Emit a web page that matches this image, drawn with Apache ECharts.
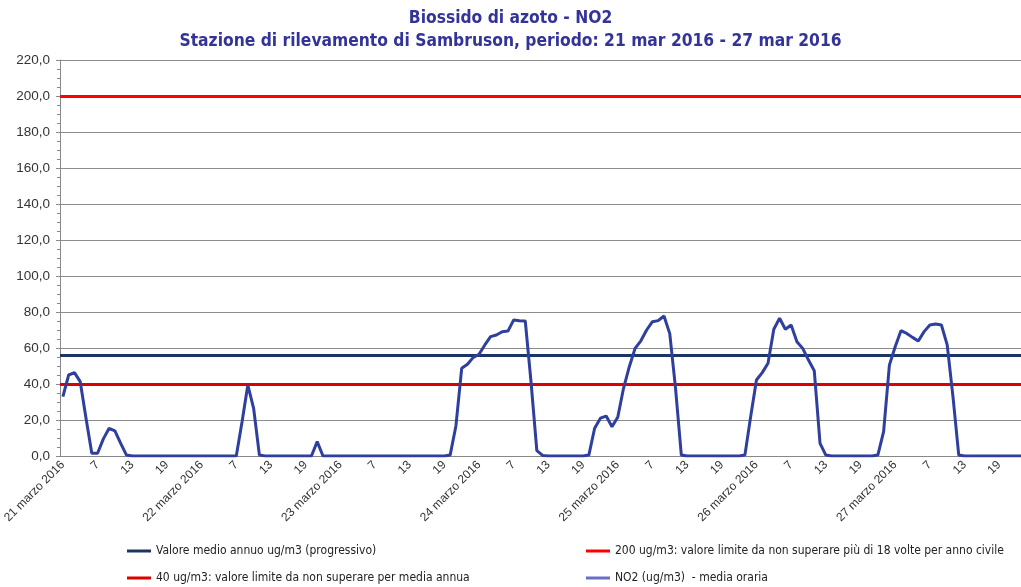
<!DOCTYPE html>
<html>
<head>
<meta charset="utf-8">
<script src="https://cdn.jsdelivr.net/npm/echarts@6/dist/echarts.min.js"></script>
<style>
  html, body { margin: 0; padding: 0; background: #fff; }
  #chart { width: 1021px; height: 587px; }
</style>
</head>
<body>
<div id="chart"></div>
<script>
// tick labels of the category axis
const days = ["21 marzo 2016", "22 marzo 2016", "23 marzo 2016", "24 marzo 2016",
  "25 marzo 2016", "26 marzo 2016", "27 marzo 2016"];

// hourly NO2 values (ug/m3), hours 1..24 of each day
const day21 = [33, 45, 46.3, 41.3, 21, 1.5, 1.5, 9.5, 15.4, 14, 7, 0.5, 0, 0, 0, 0, 0, 0, 0, 0, 0, 0, 0, 0];
const day22 = [0, 0, 0, 0, 0, 0, 0, 19, 39.4, 26.5, 0.5, 0, 0, 0, 0, 0, 0, 0, 0, 0, 8, 0, 0, 0];
const day23 = [0, 0, 0, 0, 0, 0, 0, 0, 0, 0, 0, 0, 0, 0, 0, 0, 0, 0, 0, 0.5, 16.7, 48.7, 51, 54.8];
const day24 = [56.5, 61.7, 66.3, 67.2, 69, 69.4, 75.6, 75.2, 75, 41, 3, 0.3, 0, 0, 0, 0, 0, 0, 0, 0.5, 15.4, 21, 22.2, 16.3];
const day25 = [21.5, 37.6, 49.6, 59.8, 64, 70, 74.6, 75.2, 77.8, 68, 37.6, 0.5, 0, 0, 0, 0, 0, 0, 0, 0, 0, 0, 0.5, 21.9];
const day26 = [42.2, 46.3, 51.5, 70.4, 76.5, 70.4, 72.8, 63.5, 59.8, 53.3, 47.4, 7, 0.5, 0, 0, 0, 0, 0, 0, 0, 0, 0.5, 13.5, 50.5];
const day27 = [60.7, 69.6, 68.1, 65.9, 63.9, 69.1, 72.8, 73.3, 72.8, 61.7, 33, 0.5, 0, 0, 0, 0, 0, 0, 0, 0, 0, 0, 0, 0];

const annualMean = 55.7;
const limitHourly = 200;
const limitAnnual = 40;

const no2 = [].concat(day21, day22, day23, day24, day25, day26, day27);
const categories = [];
days.forEach(function (d) {
  for (let h = 1; h <= 24; h++) categories.push(h === 1 ? d : String(h));
});

const nameMean = "Valore medio annuo ug/m3 (progressivo)";
const name200 = "200 ug/m3: valore limite da non superare più di 18 volte per anno civile";
const name40 = "40 ug/m3: valore limite da non superare per media annua";
const nameNo2 = "NO2 (ug/m3)  - media oraria";

const narrow = "'Liberation Sans Narrow', 'DejaVu Sans Condensed', 'Liberation Sans', sans-serif";

function hline(name, value, color, width) {
  return {
    name: name,
    type: "line",
    data: [],
    color: color,
    lineStyle: { color: color, width: width },
    markLine: {
      silent: true,
      symbol: "none",
      label: { show: false },
      lineStyle: { color: color, width: width, type: "solid" },
      data: [{ yAxis: value }]
    }
  };
}

const chart = echarts.init(document.getElementById("chart"));

const legendCommon = {
  orient: "vertical",
  icon: "rect",
  padding: 0,
  itemWidth: 24,
  itemHeight: 3,
  itemGap: 13,
  textStyle: { fontFamily: narrow, fontSize: 12, color: "#222", lineHeight: 14 }
};

chart.setOption({
  animation: false,
  title: {
    text: "Biossido di azoto - NO2\nStazione di rilevamento di Sambruson, periodo: 21 mar 2016 - 27 mar 2016",
    left: "center",
    top: 2,
    textStyle: {
      fontFamily: narrow,
      fontSize: 17.3,
      fontWeight: "bold",
      color: "#333399",
      lineHeight: 23
    }
  },
  legend: [
    Object.assign({ left: 127, top: 544, data: [nameMean, name40] }, legendCommon),
    Object.assign({ left: 586, top: 544, data: [name200, nameNo2] }, legendCommon)
  ],
  grid: { left: 60, right: -10, top: 60, bottom: 131, containLabel: false, outerBoundsMode: "none" },
  xAxis: {
    type: "category",
    data: categories,
    boundaryGap: true,
    axisLine: { lineStyle: { color: "#888", width: 1 } },
    axisTick: { interval: 5, length: 5, lineStyle: { color: "#888" } },
    axisLabel: {
      interval: 5,
      rotate: 45,
      margin: 7,
      fontFamily: "'Liberation Sans', Arial, sans-serif",
      fontSize: 12,
      color: "#333"
    },
    splitLine: { show: false }
  },
  yAxis: {
    type: "value",
    min: 0,
    max: 220,
    interval: 20,
    axisLine: { show: true, lineStyle: { color: "#888" } },
    axisTick: { show: true, inside: false, length: 4, lineStyle: { color: "#888" } },
    minorTick: { show: true, splitNumber: 4, length: 3, lineStyle: { color: "#888" } },
    axisLabel: {
      margin: 10,
      fontFamily: "'Liberation Sans', Arial, sans-serif",
      fontSize: 13.5,
      color: "#333",
      formatter: function (v) { return v.toFixed(1).replace(".", ","); }
    },
    splitLine: { lineStyle: { color: "#8c8c8c", width: 1 } }
  },
  series: [
    hline(nameMean, annualMean, "#1c3664", 3),
    hline(name200, limitHourly, "#ff0000", 3),
    hline(name40, limitAnnual, "#dd0000", 3),
    {
      name: nameNo2,
      type: "line",
      data: no2,
      color: "#6a6ec8",
      showSymbol: false,
      symbol: "none",
      z: 5,
      lineStyle: { color: "#2f3f9e", width: 3 }
    }
  ]
});
</script>
</body>
</html>
